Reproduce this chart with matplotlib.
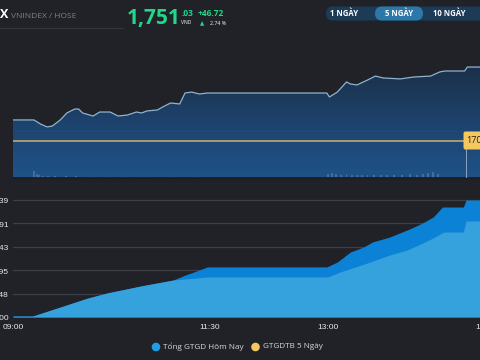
import matplotlib
matplotlib.use("Agg")
import matplotlib.pyplot as plt
import numpy as np
from matplotlib.patches import FancyBboxPatch
from matplotlib.colors import LinearSegmentedColormap

# ---------------- data ----------------
# minutes after 09:00
price_t = [0, 16, 21, 26, 30, 36, 41, 47, 50, 53, 61, 66, 74, 80, 87, 94, 98, 102, 110, 114,
           120, 127, 131, 136, 142, 148, 150, 239, 241, 247, 254, 257, 262, 270, 276, 282,
           295, 305, 318, 325, 329, 344, 346, 360]
price_v = [1717.6, 1717.6, 1715.0, 1713.2, 1713.8, 1717.6, 1722.0, 1724.5, 1724.5, 1722.0,
           1720.1, 1722.6, 1722.6, 1720.1, 1720.7, 1722.6, 1722.0, 1723.3, 1723.9, 1725.8,
           1728.3, 1727.7, 1734.6, 1735.2, 1734.0, 1734.6, 1734.6, 1734.6, 1732.1, 1735.2,
           1741.6, 1740.3, 1739.7, 1742.8, 1745.3, 1744.1, 1743.5, 1744.7, 1745.3, 1747.9,
           1748.5, 1748.5, 1751.0, 1751.0]
ref_price = 1704.31

vol_t = [16, 18, 20, 23, 27, 32, 40, 48, 58, 70, 85, 100, 120, 140, 240, 243, 246, 250, 254,
         258, 262, 266, 270, 275, 280, 285, 290, 296, 302, 308, 312, 316, 320, 324]
vol_v = [4.5, 2.5, 2, 1.5, 1.2, 1.2, 1, 1, 0.8, 0.8, 0.8, 0.7, 0.7, 0.7, 2.5, 3, 2.5, 2, 2.5,
         2, 2.2, 1.8, 2, 1.8, 2.2, 1.6, 1.8, 2, 2.5, 2.2, 2.6, 3, 3.5, 2.8]

cum_t = [0, 15, 57, 72, 97, 122, 131, 142, 148, 239, 247, 257, 267, 274, 287, 302, 312, 320,
         327, 343, 345, 360]
cum_total = [0.04, 0.04, 0.81, 1.03, 1.32, 1.58, 1.79, 2.01, 2.14, 2.14, 2.35, 2.78, 2.99,
             3.21, 3.42, 3.76, 4.02, 4.27, 4.70, 4.70, 5.00, 5.00]
light_t = [0, 15, 57, 72, 97, 122, 148, 240, 249, 270, 287, 300, 312, 320, 328, 343, 345, 360]
light_v = [0.04, 0.04, 0.81, 1.03, 1.32, 1.58, 1.71, 1.71, 1.92, 2.31, 2.65, 2.86, 3.16, 3.38,
           3.63, 3.63, 4.10, 4.10]

y_ticks = [0, 1, 2, 3, 4, 5]
y_labels = ["0.00", "4,755.48", "9,510.95", "14,266.43", "19,021.91", "23,777.39"]
x_ticks = [0, 150, 240, 360]
x_labels = ["09:00", "11:30", "13:00", "15:00"]

# ---------------- figure ----------------
W, H = 480, 360
bg = "#202228"
fig = plt.figure(figsize=(4.8, 3.6), dpi=100, facecolor=bg)

def ax_px(x0, y0, x1, y1):
    return [x0 / W, 1 - y1 / H, (x1 - x0) / W, (y1 - y0) / H]

px_per_min = 1.313
x_right = 13 + 360 * px_per_min

# ---- header ----
fig.text(0 / W, 1 - 15 / H, "X", color="white", fontsize=9, fontweight="bold", va="center", ha="left",
         family="Open Sans")
fig.text(11 / W, 1 - 16 / H, "VNINDEX / HOSE", color="#7c818b", fontsize=6, va="center", ha="left",
         family="Open Sans")
fig.add_artist(plt.Line2D([0, 123 / W], [1 - 28 / H, 1 - 28 / H], color="#34373f", lw=0.8))
green = "#22d68a"
fig.text(127 / W, 1 - 18.5 / H, "1,751", color=green, fontsize=15, fontweight="bold", va="center",
         ha="left", family="Open Sans")
fig.text(181 / W, 1 - 13 / H, ".03", color=green, fontsize=6, fontweight="bold", va="center", ha="left",
         family="Open Sans")
fig.text(181 / W, 1 - 23 / H, "VND", color="white", fontsize=3.6, va="center", ha="left", family="Open Sans")
fig.text(198 / W, 1 - 13 / H, "+46.72", color=green, fontsize=6, fontweight="bold", va="center", ha="left",
         family="Open Sans")
fig.text(200 / W, 1 - 23.5 / H, "▲", color=green, fontsize=4, va="center", ha="left", family="DejaVu Sans")
fig.text(210 / W, 1 - 23.5 / H, "2.74 %", color="white", fontsize=3.8, va="center", ha="left",
         family="Open Sans")

# ---- buttons ----
bax = fig.add_axes([0, 0, 1, 1], facecolor="none")
bax.set_xlim(0, W)
bax.set_ylim(H, 0)
bax.axis("off")
bax.add_patch(FancyBboxPatch((333, 6.5), 160, 14, boxstyle="round,pad=0,rounding_size=7",
                             fc="#1c3b57", ec="none"))
bax.add_patch(FancyBboxPatch((326, 6.5), 20, 14, boxstyle="round,pad=0,rounding_size=7",
                             fc="#1c3b57", ec="none"))
bax.add_patch(FancyBboxPatch((375, 6.5), 48, 14, boxstyle="round,pad=0,rounding_size=7",
                             fc="#2b78a9", ec="none"))
for xc, lab in [(344, "1 NGÀY"), (399, "5 NGÀY"), (449, "10 NGÀY")]:
    bax.text(xc, 13.5, lab, color="white", fontsize=5.6, fontweight="bold", ha="center", va="center",
             family="Open Sans")

# ---- top price panel ----
ax1 = fig.add_axes(ax_px(13, 35, x_right, 178))
ax1.set_facecolor("none")
ax1.set_xlim(0, 360)
ylo = ref_price - 37 * 0.6313
yhi = ref_price + 106 * 0.6313
ax1.set_ylim(ylo, yhi)
cmap = LinearSegmentedColormap.from_list("g", ["#1f5287", "#1e4572", "#1c3552", "#1a2738"])
grad = np.linspace(0, 1, 256).reshape(-1, 1)
im = ax1.imshow(grad, extent=[0, 360, ylo, yhi], origin="lower", aspect="auto", cmap=cmap, zorder=1)
poly = ax1.fill_between(price_t, price_v, ylo, color="none", lw=0)
clip = poly.get_paths()[0]
im.set_clip_path(clip, transform=ax1.transData)
ax1.plot(price_t, price_v, color="#8fb3cf", lw=0.9, zorder=4)
ax1.axhline(ref_price + 10 * 0.6313, color="#2a4a6c", lw=0.6, zorder=2)
ax1.axhline(ref_price, color="#c9b56e", lw=1.1, zorder=3)
ax1.bar(vol_t, vol_v, width=1.5, bottom=ylo, color="#6a93bd", alpha=0.45, zorder=2, lw=0)
ax1.plot([345, 345], [ylo, ref_price], color="#8da4bd", lw=0.7, zorder=3)
for s in ax1.spines.values():
    s.set_visible(False)
ax1.spines["bottom"].set_visible(True)
ax1.spines["bottom"].set_color("#1a1c22")
ax1.spines["bottom"].set_linewidth(1.2)
ax1.set_xticks([])
ax1.set_yticks([])
bax2 = fig.add_axes([0, 0, 1, 1], facecolor="none")
bax2.set_xlim(0, W)
bax2.set_ylim(H, 0)
bax2.axis("off")
bax2.add_patch(FancyBboxPatch((463.5, 131.5), 30, 18, boxstyle="round,pad=0,rounding_size=2",
                              fc="#f5c75c", ec="none", zorder=5))
bax2.text(466, 140.5, "1704.31", color="#222222", fontsize=6.5, ha="left", va="center",
          family="Open Sans", zorder=6)

# ---- bottom cumulative value panel ----
ax2 = fig.add_axes(ax_px(13, 190, x_right, 317))
ax2.set_facecolor("none")
ax2.set_xlim(0, 360)
ax2.set_ylim(0, 127 / 23.4)
ax2.fill_between(cum_t, cum_total, 0, color="#0b82d6", lw=0, zorder=2)
ax2.fill_between(light_t, light_v, 0, color="#35a2de", lw=0, zorder=3)
ax2.set_yticks(y_ticks)
ax2.set_yticklabels(y_labels)
ax2.set_xticks(x_ticks)
ax2.set_xticklabels(x_labels)
ax2.grid(axis="y", color="#3c3f46", lw=0.9, zorder=1)
ax2.set_axisbelow(True)
ax2.tick_params(axis="both", length=0, colors="#e6e8ec", labelsize=6)
ax2.tick_params(axis="y", pad=3)
ax2.tick_params(axis="x", pad=5)
for s in ax2.spines.values():
    s.set_visible(False)
for lab in ax2.get_xticklabels() + ax2.get_yticklabels():
    lab.set_family("Liberation Sans")

# ---- legend ----
bax.add_patch(plt.Circle((156, 347), 3.6, color="#1e9de9"))
bax.text(163, 347, "Tổng GTGD Hôm Nay", color="#d4d7dc", fontsize=5.9, ha="left", va="center",
         family="Open Sans")
bax.add_patch(plt.Circle((255.5, 347), 3.6, color="#f5c75c"))
bax.text(263, 347, "GTGDTB 5 Ngày", color="#d4d7dc", fontsize=5.9, ha="left", va="center",
         family="Open Sans")

fig.savefig("out.png", dpi=100, facecolor=bg)
